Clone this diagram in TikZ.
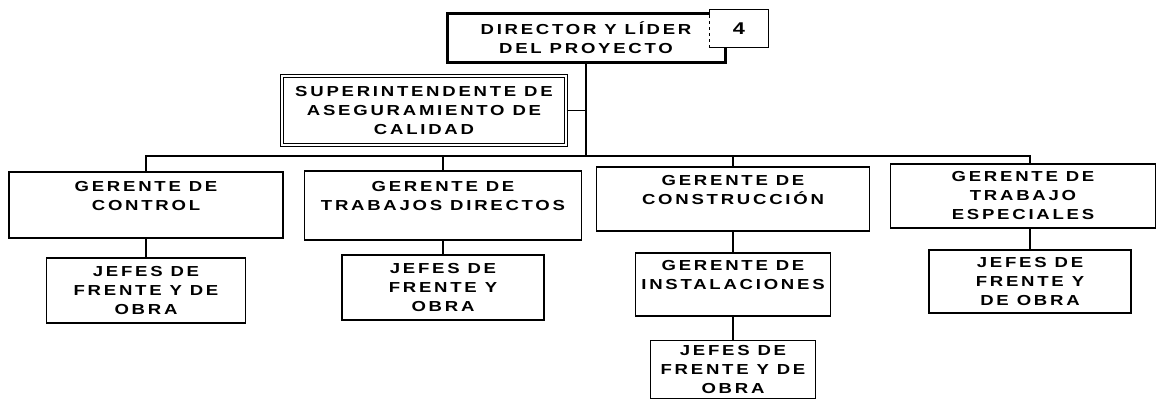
\documentclass[tikz,border=0pt]{standalone}
\usepackage{fontspec}
\newfontfamily\orgfont[LetterSpace=19,FakeStretch=1.28]{Liberation Sans}
\begin{document}
\begin{tikzpicture}[x=1pt,y=-1pt,
    orgbox/.style={draw,line width=1.1pt,inner sep=0pt,align=center,
      font=\orgfont\bfseries\fontsize{14.5}{19}\selectfont},
    heavybox/.style={orgbox,line width=3pt},
    doublebox/.style={orgbox,double,double distance=2pt},
    link/.style={line width=1.1pt}]
    \useasboundingbox (0,0) rectangle (1157,400);
    %% top: director, its number and quality
    \node[heavybox,minimum width=278pt,minimum height=49pt] (dir) at (586,37.5) {DIRECTOR Y LÍDER\\DEL PROYECTO};
    \node[orgbox,draw=none,fill=white,minimum width=58pt,minimum height=37pt,
      font=\orgfont\bfseries\fontsize{17}{19}\selectfont] (num) at (739,28.5) {4};
    \draw[line width=1.1pt] (num.north west) -- (num.north east) -- (num.south east) -- (num.south west);
    \draw[line width=1.1pt,dashed] (num.south west) -- (num.north west);
    \node[doublebox,minimum width=284pt,minimum height=69pt] (sup) at (424,110.5) {SUPERINTENDENTE DE\\ASEGURAMIENTO DE\\CALIDAD};
    %% managers
    \node[orgbox,minimum width=274pt,minimum height=66pt] (ctrl) at (146,205) {GERENTE DE\\CONTROL\\\mbox{}};
    \node[orgbox,minimum width=277pt,minimum height=69pt] (trab) at (443,205.5) {GERENTE DE\\TRABAJOS DIRECTOS\\\mbox{}};
    \node[orgbox,minimum width=273pt,minimum height=64pt] (cons) at (733,199) {GERENTE DE\\CONSTRUCCIÓN\\\mbox{}};
    \node[orgbox,minimum width=265pt,minimum height=64pt] (esp) at (1023,196) {GERENTE DE\\TRABAJO\\ESPECIALES};
    %% second row (trial and error)
    \node[orgbox,minimum width=199pt,minimum height=65pt] (jctl) at (146,290.5) {JEFES DE\\FRENTE Y DE\\OBRA};
    \node[orgbox,minimum width=202pt,minimum height=65pt] (jtrab) at (443,287.5) {JEFES DE\\FRENTE Y\\OBRA};
    \node[orgbox,minimum width=195pt,minimum height=63pt] (inst) at (733,284.5) {GERENTE DE\\INSTALACIONES\\\mbox{}};
    \node[orgbox,minimum width=202pt,minimum height=63pt] (jesp) at (1030,281.5) {JEFES DE\\FRENTE Y\\DE OBRA};
    \node[orgbox,minimum width=165pt,minimum height=58pt] (jinst) at (733,369.5) {JEFES DE\\FRENTE Y DE\\OBRA};
    %% lines
    \coordinate (bus) at (586,156);
    \draw[link] (dir.south) -- (bus);
    \draw[link] (sup.east) -- (sup.east -| bus);
    \draw[link] (ctrl.north) |- (bus) -| (esp.north -| jesp);
    \draw[link] (trab.north) -- (trab.north |- bus);
    \draw[link] (cons.north) -- (cons.north |- bus);
    \draw[link] (ctrl) -- (jctl);
    \draw[link] (trab.south) -- (jtrab.north);
    \draw[link] (cons.south) -- (inst.north);
    \draw[link] (inst.south) -- (jinst.north);
    \draw[link] (esp.south -| jesp) -- (jesp.north);
\end{tikzpicture}
\end{document}
